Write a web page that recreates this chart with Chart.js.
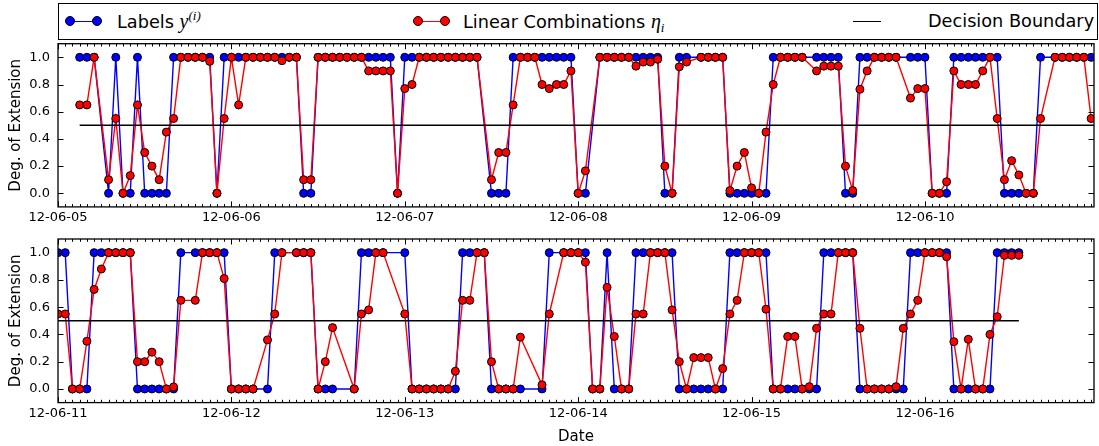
<!DOCTYPE html>
<html><head><meta charset="utf-8">
<script src="https://cdn.jsdelivr.net/npm/chart.js@4/dist/chart.umd.min.js"></script>
<style>
html,body{margin:0;padding:0;background:#fff;}
body{width:1099px;height:446px;position:relative;overflow:hidden;font-family:"DejaVu Sans",sans-serif;color:#000;}
canvas{position:absolute;left:0;}
#c1{top:0;}
#c2{top:200px;}
#legend{position:absolute;left:58px;top:3px;width:1040px;height:37px;border:1px solid #000;box-sizing:border-box;background:#fff;}
.lt{position:absolute;top:10.5px;font-size:17.7px;line-height:20px;white-space:nowrap;}
.ln{position:absolute;height:1.5px;top:20.6px;}
.mk{position:absolute;width:8px;height:8px;border:1px solid #000;border-radius:50%;top:16.4px;box-sizing:content-box;}
.m{font-family:"Liberation Serif",serif;font-style:italic;font-size:20px;}
.sup{font-family:"Liberation Serif",serif;font-style:italic;font-size:13px;position:relative;top:-8px;}
.sub{font-family:"Liberation Serif",serif;font-style:italic;font-size:13px;position:relative;top:4px;}
</style>
</head><body>
<canvas id="c1" width="1099" height="230"></canvas>
<canvas id="c2" width="1099" height="246"></canvas>
<div id="legend"></div>
<div class="ln" style="left:70px;width:27px;background:#0000ff"></div>
<div class="mk" style="left:65px;background:#0000ff"></div>
<div class="mk" style="left:92px;background:#0000ff"></div>
<div class="lt" style="left:117px">Labels <span class="m">y</span><span class="sup">(i)</span></div>
<div class="ln" style="left:418px;width:27px;background:#ff0000"></div>
<div class="mk" style="left:413px;background:#ff0000"></div>
<div class="mk" style="left:440px;background:#ff0000"></div>
<div class="lt" style="left:463px">Linear Combinations <span class="m">η</span><span class="sub">i</span></div>
<div class="ln" style="left:853px;width:28px;background:#000"></div>
<div class="lt" style="left:928px">Decision Boundary</div>
<script>
// hours counted from 12-06-05 00:00
const hours = [
  3,4,5,7,8,9,10,11,12,13,14,15,16,17,18,19,20,21,22,23,
  24,25,26,27,28,29,30,31,32,33,34,35,36,37,38,39,40,41,42,43,44,45,46,47,
  48,49,50,51,52,53,54,55,56,57,58,60,61,62,63,64,65,66,67,68,69,70,71,
  72,73,75,76,77,78,79,80,81,82,83,84,85,86,87,89,90,91,92,93,94,95,
  96,97,98,99,100,101,102,103,105,106,107,108,109,110,111,112,113,114,115,116,118,119,
  120,121,122,123,124,125,126,127,128,129,130,131,132,133,134,135,136,138,139,140,141,142,143,
  144,145,146,147,148,149,150,151,152,153,154,155,156,157,158,159,160,161,163,164,165,166,167,
  168,169,170,171,173,174,175,177,178,179,180,181,182,185,186,187,188,189,
  192,193,194,195,196,197,198,199,200,201,202,203,204,205,206,207,208,211,212,214,215,
  216,217,218,219,220,221,222,223,224,225,226,227,228,229,230,231,232,233,234,235,236,237,238,239,
  240,241,242,243,244,245,246,247,248,249,250,251,252,253,254,255,256,257,258,259,260,261,262,263,
  264,265,266,267,268,269,270,271,272,273,274,275,276,277
];
const labelsY = [
  1,1,1,0,1,0,0,1,0,0,0,0,1,1,1,1,1,1,0,1,
  1,1,1,1,1,1,1,1,1,1,0,0,1,1,1,1,1,1,1,1,1,1,1,0,
  1,1,1,1,1,1,1,1,1,1,1,0,0,0,1,1,1,1,1,1,1,1,1,
  0,0,1,1,1,1,1,1,1,1,1,0,0,1,1,1,1,1,1,0,0,0,
  0,0,0,1,1,1,1,1,1,1,1,1,0,0,1,1,1,1,1,1,1,1,
  1,0,0,0,1,1,1,1,1,1,1,0,0,0,0,0,1,1,1,1,1,1,1,
  1,1,0,0,0,1,1,1,1,1,1,0,0,0,0,0,0,1,1,1,1,1,1,
  0,0,0,0,0,1,1,1,1,1,0,0,0,0,1,1,1,1,
  1,0,0,0,0,0,0,0,1,1,1,1,0,0,0,0,0,0,1,1,1,
  1,1,0,0,1,0,0,0,1,1,1,1,1,1,0,0,0,0,0,0,0,1,1,1,
  1,1,1,0,0,0,0,0,0,0,1,1,1,1,1,0,0,0,0,0,0,0,1,1,
  1,1,1,1,0,0,0,0,0,0,1,1,1,1
];
const etaValues = [
  .65,.65,1,.10,.55,0,.13,.65,.30,.20,.10,.45,.55,1,1,1,1,.97,0,.55,
  1,.65,1,1,1,1,1,.975,1,1,.10,.10,1,1,1,1,1,1,1,.90,.90,.90,.90,0,
  .77,.80,1,1,1,1,1,1,1,1,1,.10,.30,.30,.65,1,1,1,.80,.77,.80,.80,.90,
  0,.165,1,1,1,1,1,.935,.965,.965,.985,.20,0,.93,.965,1,1,1,1,.02,.20,.30,
  .04,0,.45,.80,1,1,1,1,.90,.935,.935,.935,.20,.02,.765,.90,1,1,1,1,.70,.77,
  .77,0,0,.085,.90,.80,.80,.80,.90,1,.55,.10,.24,.135,0,0,.55,1,1,1,1,1,.55,
  .55,.55,0,0,.35,.73,.88,1,1,1,1,.20,.20,.27,.20,0,.015,.65,.65,1,1,1,.81,
  0,0,0,0,.36,.55,1,1,1,1,0,.20,.45,0,.55,.58,1,1,
  .55,0,0,0,0,0,0,.13,.65,.65,1,1,.20,0,0,0,.38,.03,.55,1,1,
  1,.93,0,0,.745,.385,0,0,.55,.55,1,1,1,.58,.20,0,.23,.23,.23,0,.15,.55,.65,1,
  1,1,.585,0,0,.385,.385,0,.017,.445,.55,.55,1,1,1,.445,0,0,0,0,.017,.445,.55,.65,
  1,1,1,.97,.347,0,.364,0,0,.40,.53,.98,.98,.98
];
const boundaryLevel = 0.5;
const dayNames = ['12-06-05','12-06-06','12-06-07','12-06-08','12-06-09','12-06-10',
                  '12-06-11','12-06-12','12-06-13','12-06-14','12-06-15','12-06-16'];
const yTickValues = [0, 0.2, 0.4, 0.6, 0.8, 1.0];
const panelStartDay = [0, 6];
const panelSpanHours = 143.4;

const labelPts = hours.map((h, i) => ({x: h, y: labelsY[i]}));
const etaPts = hours.map((h, i) => ({x: h, y: etaValues[i]}));
const boundaryPts = [{x: hours[0], y: boundaryLevel}, {x: hours[hours.length - 1], y: boundaryLevel}];

const framePlugin = {
  id: 'frame',
  afterDraw(chart) {
    const {ctx, chartArea} = chart;
    const {left, right, top, bottom} = chartArea;
    const xs = chart.scales.x, ys = chart.scales.y;
    ctx.save();
    ctx.strokeStyle = '#000';
    ctx.lineWidth = 1;
    ctx.beginPath();
    for (let h = Math.ceil(xs.min); h <= xs.max; h++) {
      const px = Math.round(xs.getPixelForValue(h)) + 0.5;
      const len = (h % 24 === 0) ? 5.5 : 2.8;
      ctx.moveTo(px, bottom); ctx.lineTo(px, bottom - len);
      ctx.moveTo(px, top); ctx.lineTo(px, top + len);
    }
    for (const v of yTickValues) {
      const py = Math.round(ys.getPixelForValue(v)) + 0.5;
      ctx.moveTo(left, py); ctx.lineTo(left + 5.5, py);
      ctx.moveTo(right, py); ctx.lineTo(right - 5.5, py);
    }
    ctx.stroke();
    ctx.lineWidth = 1.3;
    ctx.strokeRect(left, top, right - left, bottom - top);
    ctx.restore();
  }
};

function makeChart(id, panel, padTop, xHeight, showTitle) {
  const xmin = panelStartDay[panel] * 24;
  const xmax = xmin + panelSpanHours;
  const dayTicks = [];
  for (let d = 0; d < 6; d++) dayTicks.push((panelStartDay[panel] + d) * 24);
  const mkDs = (label, data, color, order) => ({
    label, data, borderColor: color, backgroundColor: color,
    pointBackgroundColor: color, pointBorderColor: '#000', pointBorderWidth: 1,
    pointRadius: 4, pointHoverRadius: 4, borderWidth: 1.4, tension: 0, order
  });
  return new Chart(document.getElementById(id), {
    type: 'line',
    data: {datasets: [
      {label: 'Decision Boundary', data: boundaryPts, borderColor: '#000', borderWidth: 1.4, pointRadius: 0, order: 0},
      mkDs('Linear Combinations', etaPts, '#ff0000', 1),
      mkDs('Labels', labelPts, '#0000ff', 2)
    ]},
    options: {
      responsive: false, animation: false, devicePixelRatio: 1,
      layout: {padding: {top: padTop, right: 1, left: 0, bottom: 0}},
      plugins: {legend: {display: false}, tooltip: {enabled: false}},
      events: [],
      scales: {
        x: {
          type: 'linear', min: xmin, max: xmax,
          afterBuildTicks: s => { s.ticks = dayTicks.map(v => ({value: v})); },
          afterFit: s => { s.height = xHeight; },
          ticks: {callback: v => dayNames[Math.round(v / 24)], autoSkip: false, maxRotation: 0, minRotation: 0,
                  color: '#000', font: {family: 'DejaVu Sans', size: 13}, padding: 3},
          grid: {display: false, drawTicks: false}, border: {display: false},
          title: {display: showTitle, text: 'Date', color: '#000', font: {family: 'DejaVu Sans', size: 15}, padding: {top: 0, bottom: 0}}
        },
        y: {
          min: -0.1, max: 1.1,
          afterBuildTicks: s => { s.ticks = yTickValues.map(v => ({value: v})); },
          afterFit: s => { s.width = 58; },
          ticks: {callback: v => v.toFixed(1), color: '#000', font: {family: 'DejaVu Sans', size: 13}, padding: 8},
          grid: {display: false, drawTicks: false}, border: {display: false},
          title: {display: true, text: 'Deg. of Extension', color: '#000', font: {family: 'DejaVu Sans', size: 15}, padding: {top: 7.5, bottom: 0}}
        }
      }
    },
    plugins: [framePlugin]
  });
}
makeChart('c1', 0, 43.7, 23.1, false);
makeChart('c2', 1, 39, 43.4, true);
</script>
</body></html>
